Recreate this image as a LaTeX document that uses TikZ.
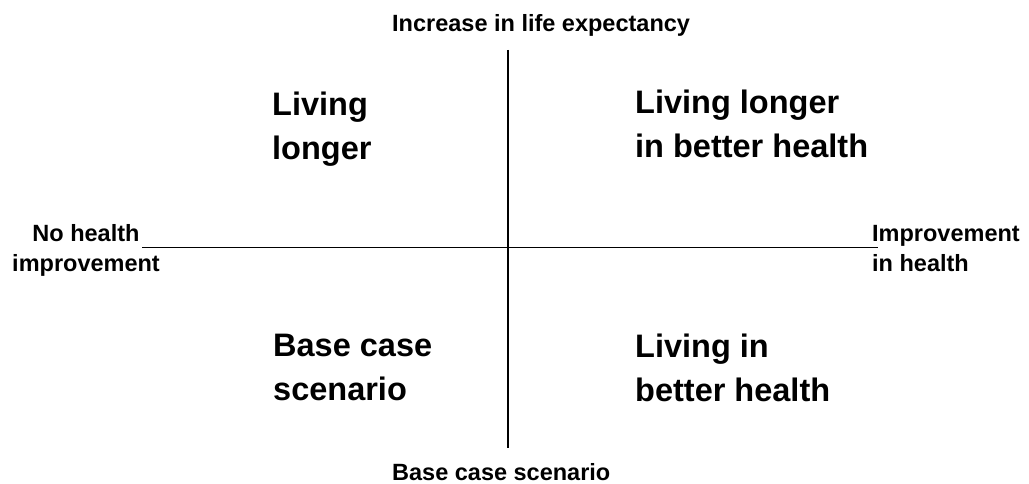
\documentclass[tikz,border=0pt]{standalone}
\usepackage{fontspec}
\setmainfont{Liberation Sans}
\begin{document}
\begin{tikzpicture}[x=1pt,y=1pt,
  axis/.style={line width=1.2pt, black},
  axislabel/.style={inner sep=0pt, font=\fontsize{23.5}{30}\selectfont\bfseries},
  quadlabel/.style={inner sep=0pt, align=left, anchor=base west,
    font=\fontsize{32.5}{44}\selectfont\bfseries}]
  \useasboundingbox (0,0) rectangle (1029,484);
  % axis end points
  \coordinate (left)   at (142,236.5);
  \coordinate (right)  at (878,236.5);
  \coordinate (top)    at (508,434);
  \coordinate (bottom) at (508,36);
  \draw[axis] (left) -- (right);
  \draw[axis] (top) -- (bottom);
  % axis labels (multi-line nodes sit on the baseline of their last line)
  \node[axislabel, anchor=base west] (up) at (392,452.5) {Increase in life expectancy};
  \node[axislabel, anchor=base west] (down) at (392,3) {Base case scenario};
  \node[axislabel, align=center, anchor=base] (neg) at (86,212.5) {No health\\improvement};
  \node[axislabel, align=left, anchor=base west] (pos) at (872,212.5) {Improvement\\in health};
  % quadrant captions
  \node[quadlabel] (tl) at (272,324) {Living\\longer};
  \node[quadlabel] (tr) at (635,326) {Living longer\\in better health};
  \node[quadlabel] (bl) at (273,83) {Base case\\scenario};
  \node[quadlabel] (br) at (635,82) {Living in\\better health};
\end{tikzpicture}
\end{document}
